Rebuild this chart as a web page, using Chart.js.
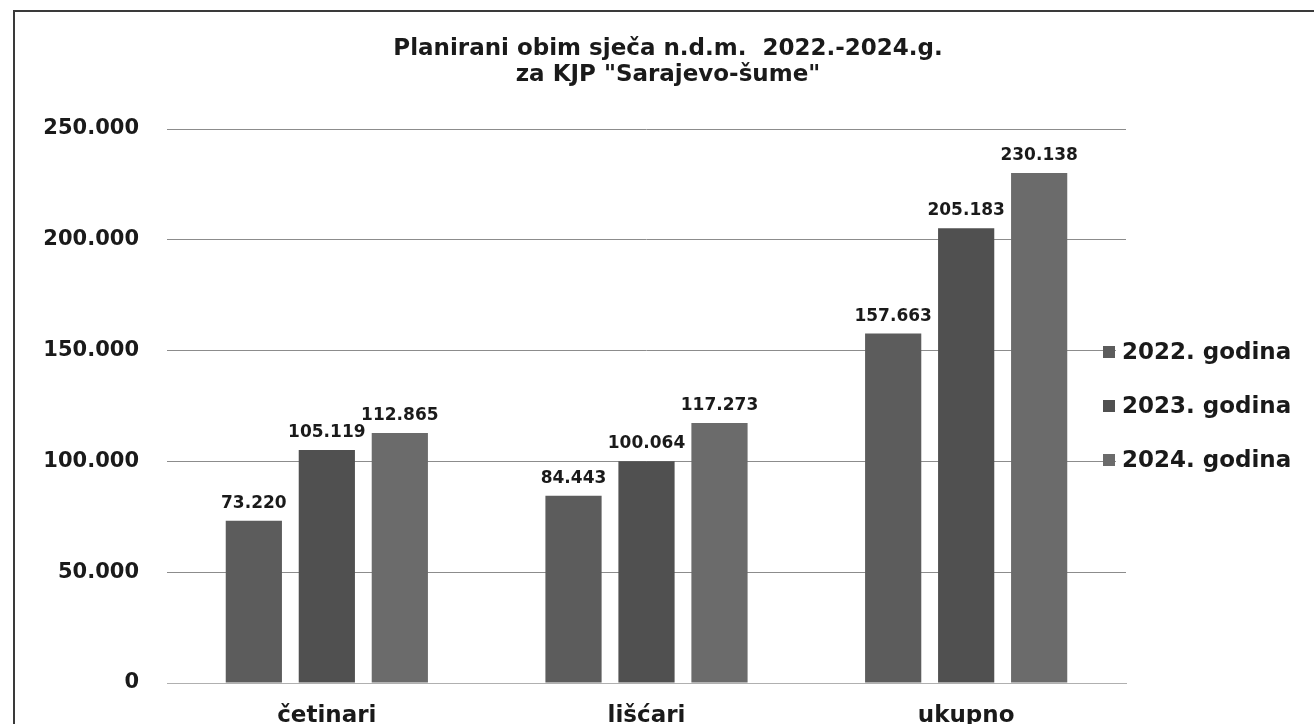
<!DOCTYPE html>
<html>
<head>
<meta charset="utf-8">
<script src="https://cdn.jsdelivr.net/npm/chart.js@4"></script>
<style>
  html, body { margin: 0; padding: 0; background: #fff; }
  #wrap { width: 1314px; height: 724px; position: relative; }
</style>
</head>
<body>
<div id="wrap"><canvas id="sjeca"></canvas></div>
<script>
// data
var categories = ['četinari', 'lišćari', 'ukupno'];
var seriesLabels = ['2022. godina', '2023. godina', '2024. godina'];
var values2022 = [73220, 84443, 157663];
var values2023 = [105119, 100064, 205183];
var values2024 = [112865, 117273, 230138];
var titleLines = ['Planirani obim sječa n.d.m.  2022.-2024.g.', 'za KJP "Sarajevo-šume"'];

var seriesColors = ['#5c5c5c', '#505050', '#6b6b6b'];
var FONT = "'DejaVu Sans', 'Liberation Sans', sans-serif";

function formatNum(v) {
    return String(Math.round(v)).replace(/\B(?=(\d{3})+(?!\d))/g, '.');
}

// title, border, value labels and legend
var decorPlugin = {
    id: 'decor',
    afterDraw: function(chart) {
        var ctx = chart.ctx;
        var area = chart.chartArea;
        ctx.save();

        // frame of the scanned page
        ctx.strokeStyle = '#3a3a3a';
        ctx.lineWidth = 2;
        ctx.beginPath();
        ctx.moveTo(14, 724);
        ctx.lineTo(14, 11);
        ctx.lineTo(1314, 11);
        ctx.stroke();

        // title
        ctx.fillStyle = '#1a1a1a';
        ctx.font = 'bold 23px ' + FONT;
        ctx.textAlign = 'center';
        ctx.textBaseline = 'middle';
        ctx.fillText(titleLines[0], 668, 49);
        ctx.fillText(titleLines[1], 668, 75);

        // value labels above the bars
        ctx.font = 'bold 17px ' + FONT;
        ctx.textBaseline = 'bottom';
        chart.data.datasets.forEach(function(ds, i) {
            var meta = chart.getDatasetMeta(i);
            meta.data.forEach(function(bar, j) {
                ctx.fillText(formatNum(ds.data[j]), bar.x, bar.y - 9);
            });
        });

        // legend on the right
        var midY = (area.top + area.bottom) / 2;
        ctx.font = 'bold 23px ' + FONT;
        ctx.textAlign = 'left';
        ctx.textBaseline = 'middle';
        chart.data.datasets.forEach(function(ds, i) {
            var y = midY + (i - 1) * 54;
            ctx.fillStyle = '#ffffff';
            ctx.fillRect(area.right - 10, y - 14, 190, 28);
            ctx.fillStyle = ds.backgroundColor;
            ctx.fillRect(area.right - 23, y - 6, 12, 12);
            ctx.fillStyle = '#1a1a1a';
            ctx.fillText(ds.label, area.right - 4, y + 1);
        });

        ctx.restore();
    }
};

var datasets = [values2022, values2023, values2024].map(function(vals, i) {
    return {
        label: seriesLabels[i],
        data: vals,
        backgroundColor: seriesColors[i],
        borderWidth: 0,
        barPercentage: 0.77,
        categoryPercentage: 0.685
    };
});

new Chart(document.getElementById('sjeca'), {
    type: 'bar',
    data: {
        labels: categories,
        datasets: datasets
    },
    options: {
        responsive: true,
        maintainAspectRatio: false,
        animation: false,
        layout: {
            padding: { top: 129, right: 188, bottom: 0, left: 0 }
        },
        plugins: {
            legend: { display: false },
            title: { display: false },
            tooltip: { enabled: false }
        },
        scales: {
            x: {
                grid: { display: false, drawTicks: false },
                border: { display: true, color: '#b0b0b0', width: 1 },
                ticks: {
                    color: '#1a1a1a',
                    padding: 19,
                    font: { family: FONT, size: 23, weight: 'bold' }
                },
                afterFit: function(scale) { scale.height = 41; }
            },
            y: {
                min: 0,
                max: 250000,
                grid: { color: '#8c8c8c', lineWidth: 1, drawTicks: false },
                border: { display: false },
                ticks: {
                    stepSize: 50000,
                    color: '#1a1a1a',
                    padding: 28,
                    font: { family: FONT, size: 21, weight: 'bold' },
                    callback: function(v) { return formatNum(v); }
                },
                afterFit: function(scale) { scale.width = 167; }
            }
        }
    },
    plugins: [decorPlugin]
});
</script>
</body>
</html>
